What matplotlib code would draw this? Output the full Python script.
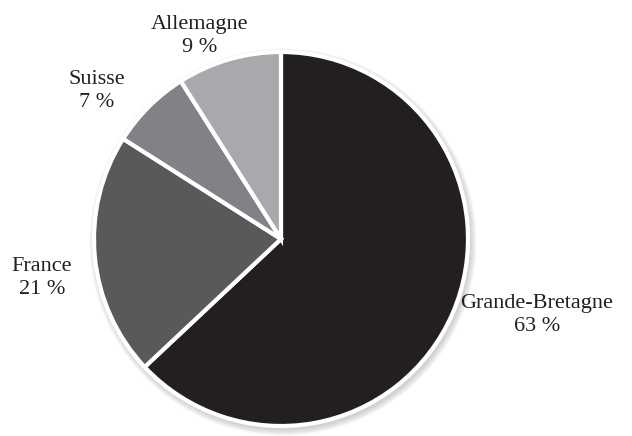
import matplotlib.pyplot as plt
from matplotlib.patches import Circle

pays = ['Grande-Bretagne', 'France', 'Suisse', 'Allemagne']
parts = [63, 21, 7, 9]
couleurs = ['#231f20', '#58595b', '#808285', '#a7a9ac']
# position des étiquettes (x, y) en pixels depuis le haut
pos_etiquettes = [(537, 315), (42, 278), (97, 91), (200, 36)]

plt.rcParams['font.family'] = ['Liberation Serif', 'DejaVu Serif']

W, H = 632, 436
fig = plt.figure(figsize=(W / 100, H / 100), dpi=100)
ax = fig.add_axes([0, 0, 1, 1])

cx, cy, r = 281, H - 239, 187

# ombre douce autour du disque
for k in range(8):
    ax.add_patch(Circle((cx + 2, cy - 3), r + 1 + k * 0.8, color='#888888',
                        alpha=0.05, lw=0, zorder=0))

ax.pie(parts, colors=couleurs, startangle=90, counterclock=False,
       center=(cx, cy), radius=r,
       wedgeprops=dict(edgecolor='white', linewidth=3))
ax.set_xlim(0, W)
ax.set_ylim(0, H)
ax.set_aspect('equal')
ax.axis('off')

for nom, p, (x, y) in zip(pays, parts, pos_etiquettes):
    ax.text(x, H - y, f'{nom}\n{p} %', ha='center', va='center', fontsize=16,
            color='#231f20', linespacing=1.3)

fig.savefig('out.png', dpi=100)
